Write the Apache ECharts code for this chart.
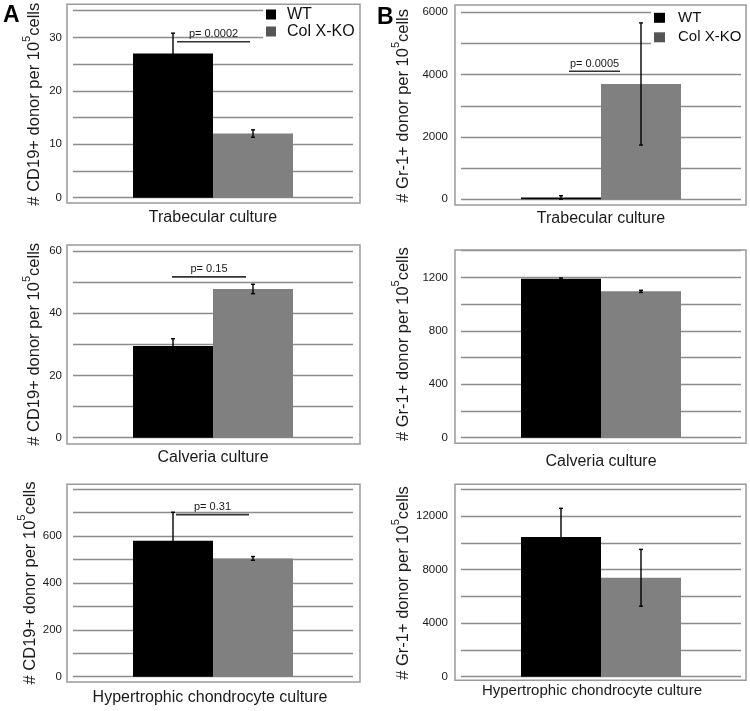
<!DOCTYPE html>
<html>
<head>
<meta charset="utf-8">
<title>CD19+ and Gr-1+ donor cells</title>
<script src="https://cdn.jsdelivr.net/npm/echarts@6.0.0/dist/echarts.min.js"></script>
<style>
  html, body { margin: 0; padding: 0; background: #fff; }
  #chart { width: 750px; height: 711px; }
</style>
</head>
<body>
<div id="chart"></div>
<script>
// data
var categories = ['Trabecular culture', 'Calveria culture', 'Hypertrophic chondrocyte culture'];
var seriesNames = ['WT', 'Col X-KO'];

// panel A: # CD19+ donor per 10^5 cells
var cd19WT = [27, 29.5, 580];
var cd19WTErr = [3.8, 2.3, 122];
var cd19KO = [12, 47.8, 505];
var cd19KOErr = [0.7, 1.5, 8];
var cd19Max = [35, 60, 800];
var cd19Step = [5, 10, 100];
var cd19Ticks = [[0, 10, 20, 30], [0, 20, 40, 60], [0, 200, 400, 600]];
var cd19P = ['p= 0.0002', 'p= 0.15', 'p= 0.31'];
var cd19PLevel = [29.2, 51.7, 692];

// panel B: # Gr-1+ donor per 10^5 cells
var gr1WT = [60, 1190, 10440];
var gr1WTErr = [55, 5, 2140];
var gr1KO = [3700, 1095, 7390];
var gr1KOErr = [1960, 8, 2120];
var gr1Max = [6000, 1400, 14000];
var gr1Step = [1000, 200, 2000];
var gr1Ticks = [[0, 2000, 4000, 6000], [0, 400, 800, 1200], [0, 4000, 8000, 12000]];
var gr1P = ['p= 0.0005', '', ''];
var gr1PLevel = [4110, null, null];

// layout (pixels)
var BAR_W = 80;
var CAP = 2;
var INK = '#1a1a1a';
// order: A top, A mid, A bottom, B top, B mid, B bottom
var gridBox = [
  [73, 10.7, 280, 187], [73, 251, 280, 186.7], [73, 489.3, 280, 187.4],
  [461, 12.3, 280, 187], [461, 250.6, 280, 187.1], [461, 489.3, 280, 187.4]
];
var frameBox = [
  [67, 4.3, 293, 198.7], [67, 245, 293, 199], [67, 484.3, 293, 197.7],
  [455, 5, 291, 200], [455, 250, 291, 193.3], [455, 484.3, 291, 196]
];
var pSpan = [[-36, 37], [-41, 33], [-37, 36], [-32, 19], null, null];
var xLabelSize = [16, 16, 16, 16, 16, 15];
var xLabelMargin = [12, 12, 13, 11, 16, 7];
var xLabelPad = [[0, 0, 0, 0], [0, 0, 0, 0], [0, 6, 0, 0], [0, 0, 0, 0], [0, 0, 0, 0], [0, 18, 0, 0]];

function errorBar(params, api) {
  var side = api.value(1), m = api.value(2), e = api.value(3);
  var top = api.coord([api.value(0), m + e]);
  var bot = api.coord([api.value(0), m - e]);
  var x = top[0] + side * BAR_W / 2;
  var st = { stroke: '#000', lineWidth: 1.4 };
  return {
    type: 'group',
    children: [
      { type: 'line', shape: { x1: x, y1: top[1], x2: x, y2: bot[1] }, style: st },
      { type: 'line', shape: { x1: x - CAP, y1: top[1], x2: x + CAP, y2: top[1] }, style: st },
      { type: 'line', shape: { x1: x - CAP, y1: bot[1], x2: x + CAP, y2: bot[1] }, style: st }
    ]
  };
}

function pBracket(text, span) {
  return function (params, api) {
    var c = api.coord([api.value(0), api.value(1)]);
    var x1 = c[0] + span[0], x2 = c[0] + span[1];
    return {
      type: 'group',
      children: [
        { type: 'line', shape: { x1: x1, y1: c[1], x2: x2, y2: c[1] },
          style: { stroke: '#333', lineWidth: 1.6 } },
        { type: 'text', style: { text: text, x: (x1 + x2) / 2, y: c[1] - 2,
          align: 'center', verticalAlign: 'bottom', fontSize: 11, fill: INK,
          fontFamily: 'Liberation Sans' } }
      ]
    };
  };
}

var option = {
  animation: false,
  textStyle: { fontFamily: 'Liberation Sans, Arial, sans-serif' },
  grid: [], xAxis: [], yAxis: [], series: [],
  legend: [
    {
      left: 263, top: 3.5, orient: 'vertical', icon: 'rect',
      itemWidth: 10, itemHeight: 10, itemGap: 1, padding: [3, 2, 6, 3],
      backgroundColor: '#fff', selectedMode: false,
      textStyle: { fontSize: 16, lineHeight: 16, color: '#111', padding: [0, 0, 0, 6] },
      data: [{ name: seriesNames[0], itemStyle: { color: '#000' } },
             { name: seriesNames[1], itemStyle: { color: '#555' } }]
    },
    {
      left: 651, top: 7.3, orient: 'vertical', icon: 'rect',
      itemWidth: 11, itemHeight: 10, itemGap: 4.5, padding: [3, 2, 6, 3],
      backgroundColor: '#fff', selectedMode: false,
      textStyle: { fontSize: 15, lineHeight: 15, color: '#111', padding: [0, 0, 0, 8] },
      data: [{ name: seriesNames[0], itemStyle: { color: '#000' } },
             { name: seriesNames[1], itemStyle: { color: '#555' } }]
    }
  ],
  graphic: []
};

var panelSets = [
  { wt: cd19WT, wtErr: cd19WTErr, ko: cd19KO, koErr: cd19KOErr, max: cd19Max, step: cd19Step,
    ticks: cd19Ticks, p: cd19P, pLevel: cd19PLevel, title: '# CD19+ donor per 10',
    nameGap: 30, labelMargin: 11 },
  { wt: gr1WT, wtErr: gr1WTErr, ko: gr1KO, koErr: gr1KOErr, max: gr1Max, step: gr1Step,
    ticks: gr1Ticks, p: gr1P, pLevel: gr1PLevel, title: '# Gr-1+ donor per 10',
    nameGap: 49, labelMargin: 13 }
];

panelSets.forEach(function (set, col) {
  for (var row = 0; row < 3; row++) {
    var idx = col * 3 + row;
    var g = gridBox[idx];
    var ticks = set.ticks[row];
    option.grid.push({ left: g[0], top: g[1], width: g[2], height: g[3] });
    option.xAxis.push({
      type: 'category', gridIndex: idx, data: [categories[row]],
      axisLine: { show: false }, axisTick: { show: false },
      axisLabel: { fontSize: xLabelSize[idx], color: INK, margin: xLabelMargin[idx],
        padding: xLabelPad[idx] }
    });
    option.yAxis.push({
      type: 'value', gridIndex: idx, min: 0, max: set.max[row], interval: set.step[row],
      axisLine: { show: false }, axisTick: { show: false },
      splitLine: { lineStyle: { color: '#8c8c8c', width: 1.3 } },
      axisLabel: {
        fontSize: 11.5, color: INK, margin: set.labelMargin,
        formatter: (function (t) {
          return function (v) { return t.indexOf(v) >= 0 ? String(v) : ''; };
        })(ticks)
      },
      name: '{m|' + set.title + '}{s|5}{m|cells}',
      nameLocation: 'middle', nameGap: set.nameGap,
      nameTextStyle: {
        color: INK,
        rich: {
          m: { fontSize: 16.5, lineHeight: 22, verticalAlign: 'bottom', color: INK },
          s: { fontSize: 11, lineHeight: 12, verticalAlign: 'top', color: INK }
        }
      }
    });
    option.series.push({
      type: 'bar', name: seriesNames[0], xAxisIndex: idx, yAxisIndex: idx,
      data: [set.wt[row]], barWidth: BAR_W, barGap: '0%', itemStyle: { color: '#000' }
    });
    option.series.push({
      type: 'bar', name: seriesNames[1], xAxisIndex: idx, yAxisIndex: idx,
      data: [set.ko[row]], barWidth: BAR_W, barGap: '0%', itemStyle: { color: '#808080' }
    });
    option.series.push({
      type: 'custom', xAxisIndex: idx, yAxisIndex: idx, z: 5,
      encode: { x: 0, y: 2 },
      data: [[0, -1, set.wt[row], set.wtErr[row]], [0, 1, set.ko[row], set.koErr[row]]],
      renderItem: errorBar
    });
    if (set.p[row]) {
      option.series.push({
        type: 'custom', xAxisIndex: idx, yAxisIndex: idx, z: 5,
        encode: { x: 0, y: 1 },
        data: [[0, set.pLevel[row]]],
        renderItem: pBracket(set.p[row], pSpan[idx])
      });
    }
    var f = frameBox[idx];
    option.graphic.push({
      type: 'rect', z: 100, silent: true,
      shape: { x: f[0], y: f[1], width: f[2], height: f[3] },
      style: { fill: 'none', stroke: '#9a9a9a', lineWidth: 1.5 }
    });
  }
});

option.graphic.push({ type: 'text', left: 3, top: 4,
  style: { text: 'A', fontSize: 23, fontWeight: 'bold', fill: '#000', fontFamily: 'Liberation Sans' } });
option.graphic.push({ type: 'text', left: 377, top: 6,
  style: { text: 'B', fontSize: 23, fontWeight: 'bold', fill: '#000', fontFamily: 'Liberation Sans' } });

var chart = echarts.init(document.getElementById('chart'));
chart.setOption(option);
</script>
</body>
</html>
